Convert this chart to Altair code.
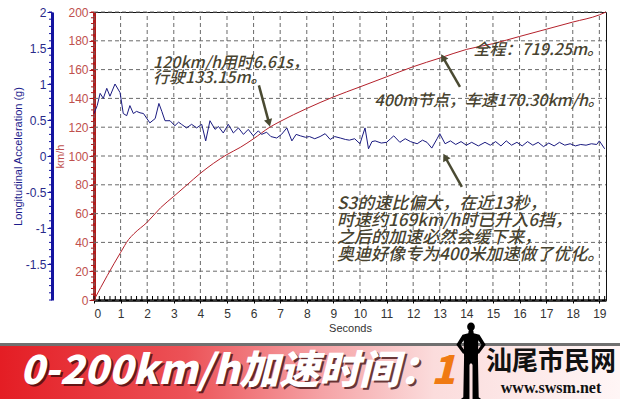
import altair as alt
import pandas as pd
import numpy as np

# ---------------- data ----------------
speed_t = [0, 0.5, 1.0, 1.3, 1.5, 2.0, 2.5, 3.0, 3.5, 4.0, 4.5, 5.0, 5.5, 6.0, 6.61, 7.0,
           8.0, 9.0, 10.0, 11.0, 12.0, 13.0, 14.0, 15.0, 16.0, 17.0, 18.0, 19.0, 19.25]
speed_v = [0, 17, 33, 42, 46, 54, 64, 72, 80, 88, 95, 101, 106, 112, 120, 124,
           133, 141, 148, 155, 162, 168, 174, 178, 183, 188, 193, 198, 200]

acc_t = [0.00, 0.12, 0.23, 0.35, 0.48, 0.60, 0.79, 0.98, 1.10, 1.23, 1.35, 1.48, 1.60, 1.73,
         1.86, 2.10, 2.30, 2.44, 2.55, 2.67, 2.86, 3.04, 3.18, 3.29, 3.48, 3.67, 3.86, 4.05,
         4.20, 4.36, 4.55, 4.68, 4.86, 5.05, 5.24, 5.43, 5.62, 5.80, 5.99, 6.18, 6.30, 6.49,
         6.65, 6.87, 7.05, 7.25, 7.44, 7.60, 7.76, 7.95, 8.10, 8.30, 8.50, 8.69, 8.88, 9.05,
         9.26, 9.45, 9.60, 9.80, 10.00, 10.19, 10.32, 10.45, 10.57, 10.80, 11.00, 11.15, 11.27,
         11.50, 11.70, 11.90, 12.15, 12.35, 12.52, 12.70, 12.90, 13.00, 13.20, 13.40, 13.60,
         13.80, 14.00, 14.20, 14.45, 14.70, 14.90, 15.10, 15.30, 15.50, 15.70, 15.90, 16.10,
         16.30, 16.50, 16.70, 16.90, 17.10, 17.30, 17.50, 17.70, 17.90, 18.10, 18.30, 18.50,
         18.70, 18.90, 19.00, 19.20]
acc_g = [0.59, 0.70, 0.87, 0.80, 0.94, 0.83, 1.00, 0.88, 0.59, 0.56, 0.70, 0.59, 0.62, 0.60,
         0.59, 0.46, 0.52, 0.73, 0.62, 0.49, 0.49, 0.42, 0.47, 0.44, 0.39, 0.44, 0.39, 0.44,
         0.21, 0.49, 0.37, 0.41, 0.32, 0.44, 0.32, 0.39, 0.30, 0.37, 0.28, 0.35, 0.30, 0.33,
         0.27, 0.25, 0.30, 0.39, 0.21, 0.30, 0.28, 0.26, 0.27, 0.24, 0.27, 0.31, 0.23, 0.27,
         0.25, 0.23, 0.22, 0.24, 0.17, 0.39, 0.10, 0.20, 0.21, 0.18, 0.19, 0.24, 0.28,
         0.19, 0.24, 0.20, 0.17, 0.22, 0.19, 0.11, 0.24, 0.31, 0.17, 0.21, 0.16,
         0.20, 0.15, 0.19, 0.14, 0.19, 0.15, 0.20, 0.14, 0.21, 0.15, 0.19, 0.14,
         0.20, 0.15, 0.19, 0.13, 0.18, 0.14, 0.19, 0.15, 0.17, 0.14, 0.16, 0.15,
         0.17, 0.16, 0.21, 0.10]

x_ticks = list(range(0, 20))
kmh_ticks = list(range(0, 201, 20))
g_ticks = [-1.5, -1, -0.5, 0, 0.5, 1, 1.5, 2]
x_minor = [round(v, 1) for v in np.arange(0, 19.21, 0.2)]
kmh_minor = list(range(0, 201, 4))
g_minor = [round(v, 1) for v in np.arange(-2, 2.01, 0.1)]

note_l_t = [2.22, 2.22, 9.14, 9.14, 9.14, 9.14]
note_l_v = [164.5, 154.5, 66.5, 54.8, 43.2, 31.5]
note_l_txt = ["120km/h用时6.61s，", "行驶133.15m。",
              "S3的速比偏大，在近13秒，", "时速约169km/h时已升入6挡，",
              "之后的加速必然会缓下来，", "奥迪好像专为400米加速做了优化。"]
note_l_fs = [16, 16, 17, 17, 17, 17]

note_r_t = [19.14, 19.17]
note_r_v = [173.5, 138.5]
note_r_txt = ["全程：719.25m。", "400m节点，车速170.30km/h。"]

arr_t0 = [6.20, 13.76, 13.83]
arr_v0 = [149.0, 148.0, 78.5]
arr_t1 = [6.58, 13.12, 13.20]
arr_v1 = [123.0, 168.5, 99.3]
arr_ang = [165, 330, 331]

banner_title = ["0-200km/h加速时间："]
banner_digit = ["1"]
site_name = ["汕尾市民网"]
site_url = ["www.swsm.net"]

# ---------------- layout constants ----------------
W, H = 512, 288
T_MAX = 19.25
V_MAX = 200
SEC_PER_PX = T_MAX / W
KMH_PER_PX = V_MAX / H

# ---------------- tables ----------------
speed_df = pd.DataFrame({"t": speed_t, "v": speed_v})
acc_df = pd.DataFrame({"t": acc_t, "g": acc_g})
gx_df = pd.DataFrame({"gx": x_ticks, "lo": 0, "hi": V_MAX})
gy_df = pd.DataFrame({"gy": kmh_ticks, "lo": 0.0, "hi": T_MAX})
xm_df = pd.DataFrame({"m": x_minor, "lo": 0.0, "hi": 4 * KMH_PER_PX})
km_df = pd.DataFrame({"mv": kmh_minor, "a": -3 * SEC_PER_PX, "b": 0.0})
gm_df = pd.DataFrame({"mg": g_minor, "a": -45 * SEC_PER_PX, "b": -42 * SEC_PER_PX})
nl_df = pd.DataFrame({"t": note_l_t, "v": note_l_v, "txt": note_l_txt, "fs": note_l_fs})
nr_df = pd.DataFrame({"t": note_r_t, "v": note_r_v, "txt": note_r_txt})
arr_df = pd.DataFrame({"t0": arr_t0, "v0": arr_v0, "t1": arr_t1, "v1": arr_v1, "ang": arr_ang})
ban_df = pd.DataFrame({"title": banner_title, "digit": banner_digit,
                       "site": site_name, "url": site_url})

FONT = "Liberation Sans"
CJK = "Noto Sans CJK SC"
NOTE_COL = "#48432f"
GRID_COL = "#6a6a6a"

xs = alt.Scale(domain=[0, T_MAX], nice=False, zero=False)
vs = alt.Scale(domain=[0, V_MAX], nice=False)
gs = alt.Scale(domain=[-2, 2], nice=False)

axX = alt.Axis(values=x_ticks, title="Seconds", grid=False, domainColor="#000000", domainWidth=2.5,
               tickColor="#000000", tickSize=3, labelFont=FONT, labelFontSize=12,
               labelColor="#333333", labelPadding=5, titleFont=FONT, titleFontSize=11,
               titleFontWeight="normal", titleColor="#333333", titlePadding=3, format="d")
axV = alt.Axis(values=kmh_ticks, title="km/h", orient="left", grid=False,
               domainColor="#b01c1c", domainWidth=3, tickColor="#b01c1c", tickSize=5,
               labelFont=FONT, labelFontSize=12, labelColor="#c0504d", labelPadding=1,
               titleFont=FONT, titleFontSize=11, titleFontWeight="normal",
               titleColor="#c0504d", titlePadding=2, format="d")
axG = alt.Axis(values=g_ticks, title="Longitudinal Acceleration (g)", orient="left", offset=42,
               grid=False, domainColor="#1414a0", domainWidth=3, tickColor="#1414a0",
               tickSize=5, labelFont=FONT, labelFontSize=12, labelColor="#2a2a8a",
               labelPadding=1, labelOverlap=False, labelExpr="datum.value + ''",
               titleFont=FONT, titleFontSize=11, titleFontWeight="normal",
               titleColor="#1c1c8c", titlePadding=2)

X = lambda f: alt.X(f, scale=xs, axis=axX)
YV = lambda f: alt.Y(f, scale=vs, axis=axV)
YG = lambda f: alt.Y(f, scale=gs, axis=axG)

# ---------------- speed group ----------------
grid_x = alt.Chart(gx_df).mark_rule(color=GRID_COL, strokeWidth=1, strokeDash=[4, 3]).encode(
    x=X("gx:Q"), y=YV("lo:Q"), y2="hi:Q")
grid_y = alt.Chart(gy_df).mark_rule(color=GRID_COL, strokeWidth=1, strokeDash=[4, 3]).encode(
    y=YV("gy:Q"), x=X("lo:Q"), x2="hi:Q")
speed_line = alt.Chart(speed_df).mark_line(color="#b4212b", strokeWidth=1, interpolate="monotone").encode(
    x=X("t:Q"), y=YV("v:Q"))
x_minor_ticks = alt.Chart(xm_df).mark_rule(color="#000000", strokeWidth=1).encode(
    x=X("m:Q"), y=YV("lo:Q"), y2="hi:Q")
v_minor_ticks = alt.Chart(km_df).mark_rule(color="#b01c1c", strokeWidth=1).encode(
    y=YV("mv:Q"), x=X("a:Q"), x2="b:Q")
notes_l = alt.Chart(nl_df).mark_text(align="left", baseline="middle", font=CJK, fontStyle="italic",
                                     fontWeight=500, color=NOTE_COL).encode(
    x=X("t:Q"), y=YV("v:Q"), text="txt:N", size=alt.Size("fs:Q", scale=None, legend=None))
notes_r = alt.Chart(nr_df).mark_text(align="right", baseline="middle", font=CJK, fontStyle="italic",
                                     fontWeight=500, fontSize=16, color=NOTE_COL).encode(
    x=X("t:Q"), y=YV("v:Q"), text="txt:N")
arr_shaft = alt.Chart(arr_df).mark_rule(color="#4a4a32", strokeWidth=2.5).encode(
    x=X("t0:Q"), y=YV("v0:Q"), x2="t1:Q", y2="v1:Q")
arr_head = alt.Chart(arr_df).mark_point(shape="triangle-up", filled=True, color="#4a4a32",
                                        size=70, opacity=1).encode(
    x=X("t1:Q"), y=YV("v1:Q"), angle=alt.Angle("ang:Q", scale=None))

group_v = alt.layer(grid_x, grid_y, speed_line, x_minor_ticks, v_minor_ticks,
                    notes_l, notes_r, arr_shaft, arr_head)

# ---------------- acceleration group ----------------
acc_line = alt.Chart(acc_df).mark_line(color="#1a1a80", strokeWidth=1).encode(
    x=X("t:Q"), y=YG("g:Q"))
g_minor_ticks = alt.Chart(gm_df).mark_rule(color="#1414a0", strokeWidth=1).encode(
    y=YG("mg:Q"), x=X("a:Q"), x2="b:Q")
group_g = alt.layer(acc_line, g_minor_ticks)

# ---------------- banner ----------------
grad = alt.Gradient(gradient="linear", x1=0, x2=1, y1=0, y2=0,
                    stops=[alt.GradientStop(color="#e41d24", offset=0),
                           alt.GradientStop(color="#ec5257", offset=0.3),
                           alt.GradientStop(color="#f5a3a6", offset=0.52),
                           alt.GradientStop(color="#fbdcdc", offset=0.7),
                           alt.GradientStop(color="#fff6f6", offset=1)])
base_b = alt.Chart(ban_df)
shadow_bar = base_b.mark_rect(color="#707070").encode(
    x=alt.value(-94), x2=alt.value(526), y=alt.value(331), y2=alt.value(336))
red_bar = base_b.mark_rect(color=grad).encode(
    x=alt.value(-94), x2=alt.value(526), y=alt.value(334), y2=alt.value(387))
title_shadow = base_b.mark_text(align="left", baseline="middle", font=CJK, fontWeight=900,
                                fontStyle="italic", fontSize=40, color="#3a0a0a", opacity=0.75).encode(
    x=alt.value(-72), y=alt.value(362), text="title:N")
title_txt = base_b.mark_text(align="left", baseline="middle", font=CJK, fontWeight=900,
                             fontStyle="italic", fontSize=40, color="#ffffff").encode(
    x=alt.value(-74), y=alt.value(360), text="title:N")
digit_txt = base_b.mark_text(align="left", baseline="middle", font=CJK, fontWeight=900,
                             fontStyle="italic", fontSize=40, color="#f07a12").encode(
    x=alt.value(337), y=alt.value(360), text="digit:N")
person_path = ("M 0 -1 A 0.1 0.11 0 1 1 0 -0.78 A 0.1 0.11 0 1 1 0 -1 Z "
               "M -0.06 -0.79 L 0.06 -0.79 L 0.07 -0.72 L 0.22 -0.68 L 0.38 -0.42 L 0.2 -0.18 "
               "L 0.15 -0.25 L 0.27 -0.42 L 0.19 -0.54 L 0.18 -0.1 L 0.2 0.94 L 0.28 1 L 0.04 1 "
               "L 0.04 0.1 L 0 0.05 L -0.04 0.1 L -0.04 1 L -0.28 1 L -0.2 0.94 L -0.18 -0.1 "
               "L -0.19 -0.54 L -0.27 -0.42 L -0.15 -0.25 L -0.2 -0.18 L -0.38 -0.42 "
               "L -0.22 -0.68 L -0.07 -0.72 Z")
person = base_b.mark_point(shape=person_path, filled=True, color="#000000", opacity=1,
                           size=5929).encode(x=alt.value(377), y=alt.value(349))
site_txt = base_b.mark_text(align="center", baseline="middle", font=CJK, fontWeight="bold",
                            fontSize=26, color="#111111").encode(
    x=alt.value(457), y=alt.value(350), text="site:N")
url_txt = base_b.mark_text(align="center", baseline="middle", font="Liberation Serif",
                           fontWeight="bold", fontSize=16, color="#111111").encode(
    x=alt.value(457), y=alt.value(376), text="url:N")

group_b = alt.layer(shadow_bar, red_bar, title_shadow, title_txt, digit_txt, person, site_txt, url_txt)

chart = alt.layer(group_v, group_g, group_b).resolve_scale(y="independent").properties(
    width=W, height=H,
    padding={"left": 94, "top": 12, "right": 14, "bottom": 99},
    autosize=alt.AutoSizeParams(type="none"),
    background="#ffffff",
).configure_view(stroke="#111111", strokeWidth=1)

chart.save("out.html", embed_options={"renderer": "svg", "actions": False})
